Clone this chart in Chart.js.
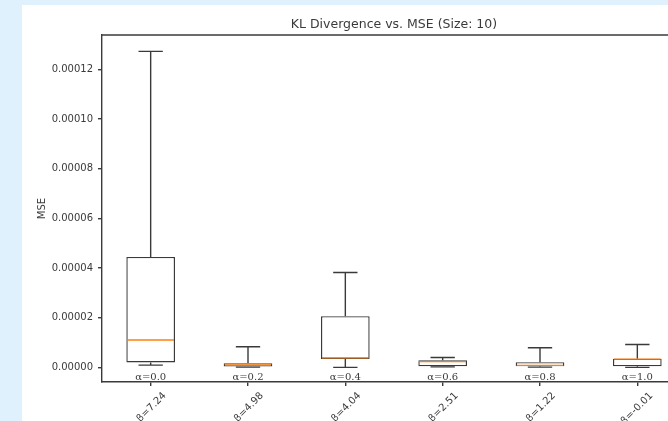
<!DOCTYPE html>
<html>
<head>
<meta charset="utf-8">
<script src="https://cdn.jsdelivr.net/npm/chart.js@4.4.1/dist/chart.umd.min.js"></script>
<style>
  html, body { margin: 0; padding: 0; overflow: hidden; background: #dff1fd; }
  #sheet { position: absolute; left: 22px; top: 5px; width: 700px; height: 460px; background: #ffffff; }
</style>
</head>
<body>
<div id="sheet"><canvas id="boxChart"></canvas></div>
<script>
// categories
const alphaLabels = ["α=0.0", "α=0.2", "α=0.4", "α=0.6", "α=0.8", "α=1.0"];
const klLabels = ["β=7.24", "β=4.98", "β=4.04", "β=2.51", "β=1.22", "β=-0.01"];

// box statistics
const whiskerLow  = [0.0000009, 0.0000001, 0.0000000, 0.0000002, 0.0000001, 0.0000000];
const q1          = [0.0000020, 0.0000003, 0.0000034, 0.0000004, 0.0000004, 0.0000004];
const medians     = [0.0000110, 0.0000013, 0.0000038, 0.0000023, 0.0000008, 0.0000033];
const q3          = [0.0000445, 0.0000017, 0.0000206, 0.0000029, 0.0000021, 0.0000035];
const whiskerHigh = [0.0001273, 0.0000083, 0.0000382, 0.0000040, 0.0000079, 0.0000092];

const yTicks = [0, 0.00002, 0.00004, 0.00006, 0.00008, 0.0001, 0.00012];

const ink = "#3a3a3a";
const font = "DejaVu Sans";
const lw = 1.4;

const boxPlotExtras = {
  id: "boxPlotExtras",
  beforeDatasetsDraw(chart) {
    const { ctx, chartArea } = chart;
    const x = chart.scales.x;
    const y = chart.scales.y;
    const catW = x.width / alphaLabels.length;
    ctx.save();
    ctx.strokeStyle = ink;
    ctx.lineWidth = lw;
    alphaLabels.forEach((_, i) => {
      const cx = x.getPixelForValue(i);
      const capHalf = catW * 0.125;
      ctx.beginPath();
      ctx.moveTo(cx, y.getPixelForValue(q3[i]));
      ctx.lineTo(cx, y.getPixelForValue(whiskerHigh[i]));
      ctx.moveTo(cx, y.getPixelForValue(q1[i]));
      ctx.lineTo(cx, y.getPixelForValue(whiskerLow[i]));
      ctx.moveTo(cx - capHalf, y.getPixelForValue(whiskerHigh[i]));
      ctx.lineTo(cx + capHalf, y.getPixelForValue(whiskerHigh[i]));
      ctx.moveTo(cx - capHalf, y.getPixelForValue(whiskerLow[i]));
      ctx.lineTo(cx + capHalf, y.getPixelForValue(whiskerLow[i]));
      ctx.stroke();
    });
    // top spine
    ctx.beginPath();
    ctx.moveTo(chartArea.left, chartArea.top);
    ctx.lineTo(chartArea.right, chartArea.top);
    ctx.stroke();
    ctx.restore();
  },
  afterDatasetsDraw(chart) {
    const { ctx, chartArea } = chart;
    const x = chart.scales.x;
    const y = chart.scales.y;
    const boxHalf = x.width / alphaLabels.length * 0.25;
    ctx.save();
    ctx.strokeStyle = "#ff7f0e";
    ctx.lineWidth = lw;
    medians.forEach((m, i) => {
      const cx = x.getPixelForValue(i);
      const py = y.getPixelForValue(m);
      ctx.beginPath();
      ctx.moveTo(cx - boxHalf + 1, py);
      ctx.lineTo(cx + boxHalf - 1, py);
      ctx.stroke();
    });
    ctx.fillStyle = ink;
    ctx.font = "10px 'DejaVu Serif'";
    ctx.textAlign = "center";
    ctx.textBaseline = "middle";
    alphaLabels.forEach((lab, i) => {
      ctx.fillText(lab, x.getPixelForValue(i), chartArea.bottom - 5);
    });
    ctx.restore();
  }
};

new Chart(document.getElementById("boxChart"), {
  type: "bar",
  data: {
    labels: klLabels,
    datasets: [{
      label: "MSE",
      data: q1.map((v, i) => [v, q3[i]]),
      backgroundColor: "#ffffff",
      borderColor: ink,
      borderWidth: lw,
      borderSkipped: false,
      barPercentage: 0.5,
      categoryPercentage: 1.0
    }]
  },
  options: {
    responsive: true,
    maintainAspectRatio: false,
    animation: false,
    events: [],
    layout: { padding: { left: 0, right: 36, top: 0, bottom: 0 } },
    plugins: {
      legend: { display: false },
      tooltip: { enabled: false },
      title: {
        display: true,
        fullSize: false,
        text: "KL Divergence vs. MSE (Size: 10)",
        color: ink,
        font: { family: font, size: 12.5, weight: "normal" },
        padding: { top: 12, bottom: 3 }
      }
    },
    scales: {
      x: {
        offset: true,
        grid: { display: true, offset: false, drawOnChartArea: false, drawTicks: true, tickLength: 4, color: ink, lineWidth: lw },
        border: { display: true, color: ink, width: lw },
        ticks: {
          color: ink,
          font: { family: font, size: 10 },
          minRotation: 45,
          maxRotation: 45,
          autoSkip: false,
          labelOffset: 14,
          padding: 4
        },
        afterFit(scale) { scale.height = 83; }
      },
      y: {
        min: -0.0000059,
        max: 0.0001339,
        grid: { display: true, drawOnChartArea: false, drawTicks: true, tickLength: 4, color: ink, lineWidth: lw },
        border: { display: true, color: ink, width: lw },
        title: {
          display: true,
          text: "MSE",
          color: ink,
          font: { family: font, size: 10 },
          padding: { top: 14, bottom: 0 }
        },
        ticks: {
          color: ink,
          font: { family: font, size: 10 },
          padding: 5,
          callback: (v) => Number(v).toFixed(5)
        },
        afterBuildTicks(scale) { scale.ticks = yTicks.map((v) => ({ value: v })); },
        afterFit(scale) { scale.width = 80; }
      }
    }
  },
  plugins: [boxPlotExtras]
});
</script>
</body>
</html>
